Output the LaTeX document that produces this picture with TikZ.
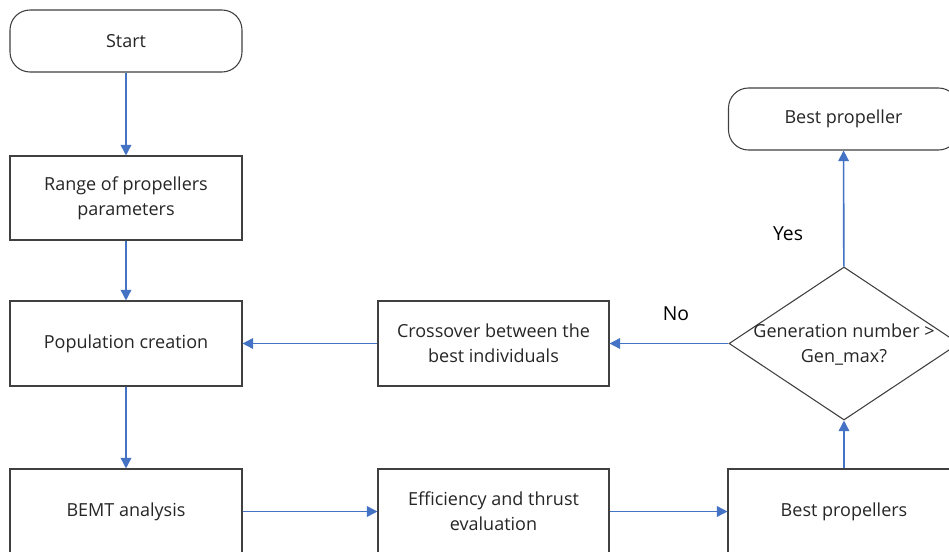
\documentclass[tikz,border=0pt]{standalone}
\usepackage{fontspec}
\setmainfont{Open Sans}
\usetikzlibrary{shapes.geometric,arrows.meta}
\definecolor{boxline}{HTML}{404040}
\definecolor{arrowblue}{HTML}{4472C4}
\tikzset{
  txt/.style={font=\fontsize{13.5}{19}\selectfont, text=black!85, align=center},
  procbox/.style={txt, draw=boxline, line width=0.8pt, minimum width=174pt, minimum height=63.75pt, inner sep=0pt},
  termbox/.style={txt, draw=boxline, line width=0.8pt, rounded corners=15pt, minimum width=174pt, minimum height=46.5pt, inner sep=0pt},
  decbox/.style={draw=boxline, line width=0.8pt, diamond, minimum width=172.5pt, minimum height=114.75pt, inner sep=0pt},
  flow/.style={draw=arrowblue, line width=1.2pt, -{Triangle[width=8pt,length=8pt]}},
  answer/.style={font=\fontsize{14.5}{17}\selectfont, text=black}
}
\begin{document}
\begin{tikzpicture}[x=0.75pt,y=-0.75pt]
\useasboundingbox (0,0) rectangle (949,552);
\clip (0,0) rectangle (949,552);
\fill[white] (0,0) rectangle (949,552);
\node[termbox] (start) at (126,41) {Start};
\node[procbox, minimum height=63pt] (range) at (126,198) {Range of propellers\\parameters};
\node[procbox] (pop) at (126,343.5) {Population creation};
\node[procbox] (bemt) at (126,511.5) {BEMT analysis};
\node[procbox, minimum width=173.25pt] (eff) at (493.5,511.5) {Efficiency and thrust\\evaluation};
\node[procbox] (bestp) at (844,511.5) {Best propellers};
\node[procbox, minimum width=173.25pt] (cross) at (493.5,343.5) {Crossover between the\\best individuals};
\node[decbox] (dec) at (844,343.5) {};
\node[txt] (dectext) at (844,344.5) {Generation number >\\Gen\_max?};
\node[termbox, minimum width=172.5pt] (best) at (843.5,119) {Best propeller};
\node[answer] (yes) at (788,234) {Yes};
\node[answer] (no) at (676,314) {No};
\draw[flow] (start) -- (range);
\draw[flow] (range) -- (pop);
\draw[flow] (pop) -- (bemt);
\draw[flow] (bemt) -- (eff);
\draw[flow] (eff) -- (bestp);
\draw[flow] (bestp) -- (dec);
\draw[flow] (dec) -- (best);
\draw[flow] (dec) -- (cross);
\draw[flow] (cross) -- (pop);
\end{tikzpicture}
\end{document}
